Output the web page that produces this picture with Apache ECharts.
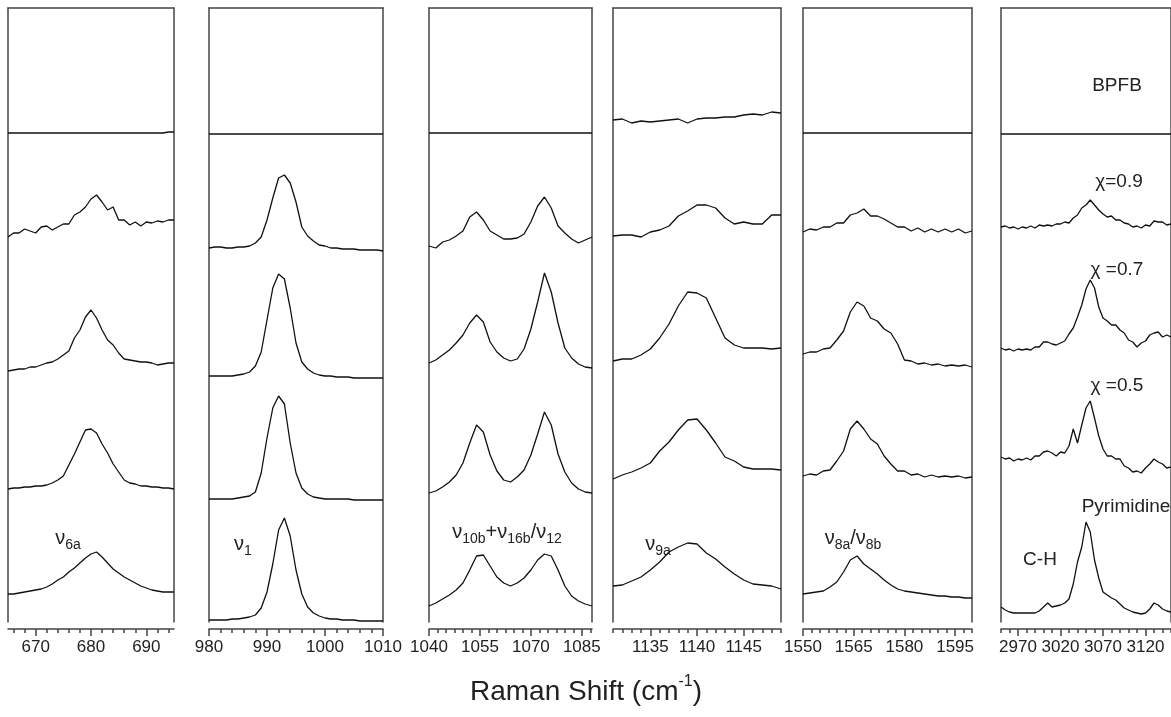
<!DOCTYPE html>
<html><head><meta charset="utf-8">
<script src="https://cdn.jsdelivr.net/npm/echarts@6/dist/echarts.min.js"></script>
<style>html,body{margin:0;padding:0;background:#fff}#c{width:1171px;height:717px}</style>
</head><body><div id="c"></div><script>
// ---------------- data ----------------
// Panel 1: nu6a region
const P1_RANGE = [665, 695];
const P1_MAJOR = [670, 680, 690];
const P1_MINOR = [666, 668, 672, 674, 676, 678, 682, 684, 686, 688, 692, 694];
const P1_X = [665,666,667,668,669,670,671,672,673,674,675,676,677,678,679,680,681,682,683,684,685,686,687,688,689,690,691,692,693,694,695];
const P1_BPFB  = [1,1,1,1,1,1,1,1,1,1,1,1,1,1,1,1,1,1,1,1,1,1,1,1,1,1,1,1,1,2,2];
const P1_CHI09 = [13,17,17,21,19,17,23,24,20,23,26,26,35,38,43,51,55,48,40,43,30,30,25,28,24,28,27,29,28,30,30];
const P1_CHI07 = [9,10,11,11,13,13,15,17,18,21,25,29,42,50,63,70,62,50,40,35,27,21,20,19,18,18,17,15,16,17,17];
const P1_CHI05 = [11,12,12,13,13,14,14,15,17,20,24,35,46,58,70,71,67,56,47,36,28,20,17,16,14,14,13,13,12,12,11];
const P1_PYR   = [28,28,29,30,31,32,33,35,38,42,45,50,54,59,64,68,70,65,59,53,49,45,42,39,36,34,32,31,30,30,30];

// Panel 2: nu1 region
const P2_RANGE = [980, 1010];
const P2_MAJOR = [980, 990, 1000, 1010];
const P2_MINOR = [982, 984, 986, 988, 992, 994, 996, 998, 1002, 1004, 1006, 1008];
const P2_X = [980,981,982,983,984,985,986,987,988,989,990,991,992,993,994,995,996,997,998,999,1000,1001,1002,1003,1004,1005,1006,1007,1008,1009,1010];
const P2_BPFB  = [0,0,0,0,0,0,0,0,0,0,0,0,0,0,0,0,0,0,0,0,0,0,0,0,0,0,0,0,0,0,0];
const P2_CHI09 = [2,3,3,2,2,3,3,4,7,13,30,52,72,75,67,48,23,14,9,5,4,2,2,1,1,1,0,0,0,0,-1];
const P2_CHI07 = [4,4,4,4,4,5,6,8,14,28,60,92,106,101,72,37,18,11,7,5,4,4,3,3,3,2,2,2,2,2,2];
const P2_CHI05 = [1,1,1,1,1,2,3,4,8,27,62,92,104,96,57,27,12,6,3,2,1,1,1,1,1,0,0,0,0,0,0];
const P2_PYR   = [2,2,2,2,3,3,4,5,7,14,30,58,92,104,86,52,28,15,9,6,4,3,3,2,2,2,1,1,1,1,1];

// Panel 3: nu10b+nu16b / nu12 region
const P3_RANGE = [1040, 1088];
const P3_MAJOR = [1040, 1055, 1070, 1085];
const P3_MINOR = [1042.5,1045,1047.5,1050,1052.5,1057.5,1060,1062.5,1065,1067.5,1072.5,1075,1077.5,1080,1082.5,1087.5];
const P3_X = [1040,1042,1044,1046,1048,1050,1052,1054,1056,1058,1060,1062,1064,1066,1068,1070,1072,1074,1076,1078,1080,1082,1084,1086,1088];
const P3_BPFB  = [1,1,1,1,1,1,1,1,1,1,1,1,1,1,1,1,1,1,1,1,1,1,1,1,1];
const P3_CHI09 = [4,2,8,10,14,19,33,38,30,19,15,11,11,12,16,28,44,53,42,24,17,11,7,10,13];
const P3_CHI07 = [17,20,25,30,37,45,57,65,58,38,28,22,19,21,31,51,78,107,88,57,32,22,16,13,12];
const P3_CHI05 = [7,9,13,18,25,37,57,75,68,45,29,20,18,23,30,45,66,88,75,46,28,17,11,8,7];
const P3_PYR   = [16,19,23,27,32,39,52,66,67,56,45,39,36,39,44,52,62,68,66,52,36,26,21,18,16];

// Panel 4: nu9a region
const P4_RANGE = [1131, 1149];
const P4_MAJOR = [1135, 1140, 1145];
const P4_MINOR = [1131,1132,1133,1134,1136,1137,1138,1139,1141,1142,1143,1144,1146,1147,1148,1149];
const P4_X = [1131,1132,1133,1134,1135,1136,1137,1138,1139,1140,1141,1142,1143,1144,1145,1146,1147,1148,1149];
const P4_BPFB  = [14,15,11,13,12,13,14,15,11,15,16,16,17,17,19,20,19,22,21];
const P4_CHI09 = [14,15,15,13,18,20,24,34,39,45,45,42,32,26,28,26,26,35,35];
const P4_CHI07 = [19,21,21,25,31,42,56,74,88,87,82,62,42,35,32,32,32,31,32];
const P4_CHI05 = [21,25,28,32,37,49,58,70,80,81,70,57,43,39,33,31,31,31,30];
const P4_PYR   = [36,37,41,45,52,60,70,75,79,78,69,63,55,48,42,38,37,36,33];

// Panel 5: nu8a / nu8b region
const P5_RANGE = [1550, 1600];
const P5_MAJOR = [1550, 1565, 1580, 1595];
const P5_MINOR = [1552.5,1555,1557.5,1560,1562.5,1567.5,1570,1572.5,1575,1577.5,1582.5,1585,1587.5,1590,1592.5,1597.5,1600];
const P5_X = [1550,1552,1554,1556,1558,1560,1562,1564,1566,1568,1570,1572,1574,1576,1578,1580,1582,1584,1586,1588,1590,1592,1594,1596,1598,1600];
const P5_BPFB  = [1,1,1,1,1,1,1,1,1,1,1,1,1,1,1,1,1,1,1,1,1,1,1,1,1,1];
const P5_CHI09 = [18,21,20,23,23,27,27,35,37,41,34,34,31,27,23,23,19,22,18,21,18,21,18,21,17,19];
const P5_CHI07 = [26,28,28,31,32,40,49,68,78,74,62,59,51,47,36,20,19,16,17,15,16,14,15,14,15,13];
const P5_CHI05 = [24,26,25,29,30,39,49,71,79,71,61,56,44,36,29,29,25,26,23,25,23,24,23,24,22,23];
const P5_PYR   = [28,29,30,31,35,40,50,62,66,58,53,48,42,37,33,31,30,29,28,27,26,26,25,25,24,24];

// Panel 6: C-H stretching region
const P6_RANGE = [2950, 3150];
const P6_MAJOR = [2970, 3020, 3070, 3120];
const P6_MINOR = [2950,2960,2980,2990,3000,3010,3030,3040,3050,3060,3080,3090,3100,3110,3130,3140,3150];
const P6_X = [2950,2955,2960,2965,2970,2975,2980,2985,2990,2995,3000,3005,3010,3015,3020,3025,3030,3035,3040,3045,3050,3055,3060,3065,3070,3075,3080,3085,3090,3095,3100,3105,3110,3115,3120,3125,3130,3135,3140,3145,3150];
const P6_BPFB  = [0,0,0,0,0,0,0,0,0,0,0,0,0,0,0,0,0,0,0,0,0,0,0,0,0,0,0,0,0,0,0,0,0,0,0,0,0,0,0,0,0];
const P6_CHI09 = [23,24,22,23,21,23,22,24,22,25,24,25,24,26,26,28,27,32,35,42,45,50,45,40,36,33,34,30,30,27,26,23,24,22,25,24,29,28,28,25,26];
const P6_CHI07 = [32,30,31,29,31,30,31,30,33,33,38,38,36,35,37,39,46,52,63,75,91,100,92,73,62,59,55,55,50,47,40,38,33,37,39,45,47,48,43,45,43];
const P6_CHI05 = [43,41,42,39,41,40,42,40,44,44,48,49,47,44,48,47,54,71,57,75,92,99,82,64,51,44,44,41,41,34,32,28,29,27,32,36,41,38,36,32,33];
const P6_PYR   = [15,12,10,9,9,9,9,9,9,11,15,19,15,16,17,19,23,38,60,75,100,90,62,44,30,27,24,22,18,14,12,10,9,8,9,13,19,17,13,11,10];

const ROW_NAMES = ['BPFB', 'χ=0.9', 'χ=0.7', 'χ=0.5', 'Pyrimidine'];
const X_TITLE = 'Raman Shift (cm';

// ---------------- layout / styling ----------------
const ROW_OFFSETS = [488, 372, 242, 122, 0];
const FONT = '"Liberation Sans", Arial, Helvetica, sans-serif';
const AXIS_COLOR = '#444';
const PANELS = [
  {x: P1_X, rows: [P1_BPFB, P1_CHI09, P1_CHI07, P1_CHI05, P1_PYR], range: P1_RANGE, major: P1_MAJOR, minor: P1_MINOR, left: 8, width: 166},
  {x: P2_X, rows: [P2_BPFB, P2_CHI09, P2_CHI07, P2_CHI05, P2_PYR], range: P2_RANGE, major: P2_MAJOR, minor: P2_MINOR, left: 209, width: 174},
  {x: P3_X, rows: [P3_BPFB, P3_CHI09, P3_CHI07, P3_CHI05, P3_PYR], range: P3_RANGE, major: P3_MAJOR, minor: P3_MINOR, left: 429, width: 163},
  {x: P4_X, rows: [P4_BPFB, P4_CHI09, P4_CHI07, P4_CHI05, P4_PYR], range: P4_RANGE, major: P4_MAJOR, minor: P4_MINOR, left: 613, width: 168},
  {x: P5_X, rows: [P5_BPFB, P5_CHI09, P5_CHI07, P5_CHI05, P5_PYR], range: P5_RANGE, major: P5_MAJOR, minor: P5_MINOR, left: 803, width: 169},
  {x: P6_X, rows: [P6_BPFB, P6_CHI09, P6_CHI07, P6_CHI05, P6_PYR], range: P6_RANGE, major: P6_MAJOR, minor: P6_MINOR, left: 1001, width: 172}
];
const GRID_TOP = 8, GRID_H = 614;

const grid = [], xAxis = [], yAxis = [], series = [];
const lineStyle = {color: AXIS_COLOR, width: 1.5};
PANELS.forEach((p, i) => {
  grid.push({left: p.left, width: p.width, top: GRID_TOP, height: GRID_H});
  xAxis.push({gridIndex: i, type: 'value', min: p.range[0], max: p.range[1], position: 'bottom', offset: 7,
    axisLine: {show: true, onZero: false, lineStyle},
    axisTick: {show: true, inside: false, length: 7, customValues: p.major, lineStyle},
    axisLabel: {show: true, customValues: p.major, formatter: v => String(v), fontSize: 17, color: '#222', fontFamily: FONT, margin: 10},
    splitLine: {show: false}});
  xAxis.push({gridIndex: i, type: 'value', min: p.range[0], max: p.range[1], position: 'bottom', offset: 7,
    axisLine: {show: false, onZero: false},
    axisTick: {show: true, inside: false, length: 4, customValues: p.minor, lineStyle},
    axisLabel: {show: false}, splitLine: {show: false}});
  xAxis.push({gridIndex: i, type: 'value', min: p.range[0], max: p.range[1], position: 'top',
    axisLine: {show: true, onZero: false, lineStyle}, axisTick: {show: false}, axisLabel: {show: false}, splitLine: {show: false}});
  yAxis.push({gridIndex: i, type: 'value', min: 0, max: GRID_H, position: 'left',
    axisLine: {show: true, onZero: false, lineStyle}, axisTick: {show: false}, axisLabel: {show: false}, splitLine: {show: false}});
  yAxis.push({gridIndex: i, type: 'value', min: 0, max: GRID_H, position: 'right',
    axisLine: {show: true, onZero: false, lineStyle}, axisTick: {show: false}, axisLabel: {show: false}, splitLine: {show: false}});
  p.rows.forEach((vals, r) => {
    series.push({type: 'line', name: ROW_NAMES[r], xAxisIndex: i * 3, yAxisIndex: i * 2,
      data: p.x.map((xv, k) => [xv, vals[k] + ROW_OFFSETS[r]]),
      showSymbol: false, symbol: 'none', silent: true, animation: false,
      lineStyle: {color: '#111', width: 1.3}});
  });
});

function txt(x, y, text, size, rich) {
  return {type: 'text', x, y, silent: true,
    style: {text, fontSize: size, fontFamily: FONT, fill: '#222', align: 'center', verticalAlign: 'middle', rich: rich || {}}};
}
const NU_RICH = {
  n: {fontSize: 20, fontFamily: FONT, fill: '#222', lineHeight: 24, verticalAlign: 'top'},
  s: {fontSize: 14, fontFamily: FONT, fill: '#222', lineHeight: 14, verticalAlign: 'bottom'}
};
const graphic = [
  txt(1117, 86, ROW_NAMES[0], 19),
  txt(1119, 182, 'χ=0.9', 19),
  txt(1117, 270, 'χ =0.7', 19),
  txt(1117, 386, 'χ =0.5', 19),
  txt(1126, 507, ROW_NAMES[4], 19),
  txt(1040, 560, 'C-H', 19),
  txt(68, 540, '{n|ν}{s|6a}', 20, NU_RICH),
  txt(243, 546, '{n|ν}{s|1}', 20, NU_RICH),
  txt(507, 534, '{n|ν}{s|10b}{n|+ν}{s|16b}{n|/ν}{s|12}', 20, NU_RICH),
  txt(658, 546, '{n|ν}{s|9a}', 20, NU_RICH),
  txt(853, 540, '{n|ν}{s|8a}{n|/ν}{s|8b}', 20, NU_RICH),
  txt(586, 690, '{a|' + X_TITLE + '}{b|-1}{a|)}', 28, {
    a: {fontSize: 28, fontFamily: FONT, fill: '#222', lineHeight: 32, verticalAlign: 'bottom'},
    b: {fontSize: 16, fontFamily: FONT, fill: '#222', lineHeight: 32, verticalAlign: 'top'}
  })
];

const chart = echarts.init(document.getElementById('c'), null, {renderer: 'canvas'});
chart.setOption({animation: false, backgroundColor: '#fff', grid, xAxis, yAxis, series, graphic});
</script></body></html>
